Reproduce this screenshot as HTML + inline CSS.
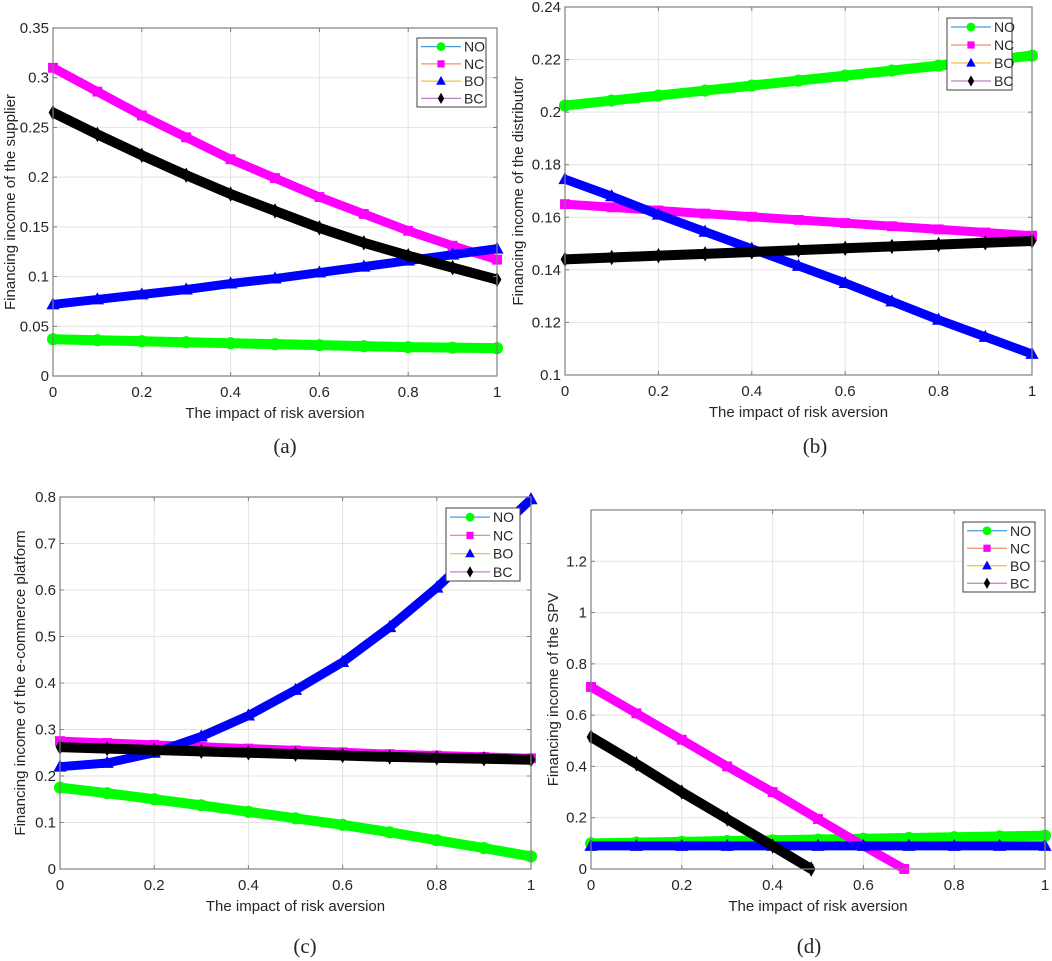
<!DOCTYPE html>
<html><head><meta charset="utf-8"><style>
body{margin:0;background:#fff;width:1052px;height:961px;overflow:hidden}
svg{display:block}
text{font-family:"Liberation Sans",sans-serif;fill:#262626}
</style></head><body>
<svg id="fig" width="1052" height="961" viewBox="0 0 1052 961"></svg>
<script>
const xs11=[0,0.1,0.2,0.3,0.4,0.5,0.6,0.7,0.8,0.9,1];
const xTicks=[0,0.2,0.4,0.6,0.8,1];
const seriesNames=["NO","NC","BO","BC"];
// panel a
const aNO=[0.037,0.036,0.035,0.034,0.033,0.032,0.031,0.030,0.029,0.0285,0.028];
const aNC=[0.310,0.286,0.262,0.240,0.218,0.199,0.180,0.163,0.146,0.131,0.117];
const aBO=[0.072,0.077,0.082,0.087,0.093,0.098,0.104,0.110,0.116,0.122,0.128];
const aBC=[0.265,0.243,0.222,0.202,0.183,0.166,0.149,0.134,0.121,0.109,0.097];
const aTicks=[0,0.05,0.1,0.15,0.2,0.25,0.3,0.35];
// panel b
const bNO=[0.2025,0.2044,0.2063,0.2082,0.2101,0.212,0.2139,0.2158,0.2177,0.2196,0.2215];
const bNC=[0.165,0.1638,0.1626,0.1614,0.1602,0.159,0.1578,0.1566,0.1554,0.1542,0.153];
const bBO=[0.1745,0.168,0.161,0.1545,0.148,0.1415,0.135,0.128,0.121,0.1145,0.108];
const bBC=[0.144,0.1447,0.1454,0.1461,0.1468,0.1475,0.1482,0.1489,0.1496,0.1503,0.151];
const bTicks=[0.1,0.12,0.14,0.16,0.18,0.2,0.22,0.24];
// panel c
const cNO=[0.175,0.163,0.150,0.137,0.123,0.109,0.095,0.079,0.062,0.045,0.027];
const cNC=[0.275,0.271,0.267,0.263,0.259,0.255,0.251,0.247,0.244,0.241,0.238];
const cBO=[0.220,0.228,0.250,0.285,0.330,0.385,0.445,0.520,0.605,0.700,0.795];
const cBC=[0.262,0.259,0.256,0.253,0.250,0.247,0.244,0.241,0.239,0.237,0.235];
const cTicks=[0,0.1,0.2,0.3,0.4,0.5,0.6,0.7,0.8];
// panel d
const dNO=[0.100,0.103,0.106,0.109,0.112,0.115,0.118,0.121,0.124,0.127,0.130];
const dBO=[0.09,0.09,0.09,0.09,0.09,0.09,0.09,0.09,0.09,0.09,0.09];
const dNCx=[0,0.1,0.2,0.3,0.4,0.5,0.6,0.69];
const dNC=[0.71,0.607,0.504,0.40,0.30,0.195,0.09,0];
const dBCx=[0,0.1,0.2,0.3,0.4,0.485];
const dBC=[0.515,0.41,0.30,0.195,0.09,0];
const dTicks=[0,0.2,0.4,0.6,0.8,1,1.2];

const NS="http://www.w3.org/2000/svg";
const svg=document.getElementById('fig');
function mk(tag,attrs,parent){const e=document.createElementNS(NS,tag);for(const k in attrs)e.setAttribute(k,attrs[k]);(parent||svg).appendChild(e);return e;}
const markColor={NO:"#00ff00",NC:"#ff00ff",BO:"#0000ff",BC:"#000000"};
const legLine={NO:"#3fa0dd",NC:"#f09070",BO:"#f0c040",BC:"#c080c8"};
function marker(g,type,x,y,s){
  const c=markColor[type];let m;
  if(type==="NO")m=mk('circle',{cx:x,cy:y,r:s*0.55,fill:c},g);
  else if(type==="NC")m=mk('rect',{x:x-s*0.45,y:y-s*0.45,width:s*0.9,height:s*0.9,fill:c},g);
  else if(type==="BO")m=mk('polygon',{points:`${x},${y-s*0.65} ${x-s*0.6},${y+s*0.45} ${x+s*0.6},${y+s*0.45}`,fill:c},g);
  else m=mk('polygon',{points:`${x},${y-s*0.7} ${x-s*0.4},${y} ${x},${y+s*0.7} ${x+s*0.4},${y}`,fill:c},g);
  return m;
}
function panel(cfg){
  const {id,L,R,T,B,ymin,ymax,yt,series,ylabel,ylx,leg,cap,capx}=cfg;
  const g=mk('g',{});
  
  
  const X=v=>L+(R-L)*v, Y=v=>B-(B-T)*(v-ymin)/(ymax-ymin);
  const grid=mk('g',{},g);
  
  
  xTicks.forEach(t=>{mk('line',{x1:X(t),x2:X(t),y1:T,y2:B,stroke:"#e3e3e3","stroke-width":1},grid);});
  yt.forEach(t=>{mk('line',{x1:L,x2:R,y1:Y(t),y2:Y(t),stroke:"#e3e3e3","stroke-width":1},grid);});
  series.forEach(s=>{
    const sg=mk('g',{},g);
    
    
    const xs=s.x||xs11;
    const pts=xs.map((x,i)=>X(x)+','+Y(s.y[i])).join(' ');
    mk('polyline',{points:pts,fill:"none",stroke:markColor[s.name],"stroke-width":s.name==="NO"?10:s.name==="BC"?10:9,"stroke-linejoin":"round"},sg);
    xs.forEach((x,i)=>marker(sg,s.name,X(x),Y(s.y[i]),11));
  });
  const ax=mk('rect',{x:L,y:T,width:R-L,height:B-T,fill:"none",stroke:"#808080","stroke-width":1.2},g);
  
  
  xTicks.forEach(t=>{
    mk('line',{x1:X(t),x2:X(t),y1:B,y2:B-4,stroke:"#808080"},g);
    mk('line',{x1:X(t),x2:X(t),y1:T,y2:T+4,stroke:"#808080"},g);
    const tx=mk('text',{x:X(t),y:B+21,"font-size":15,"text-anchor":"middle"},g);
    tx.textContent=String(t);
    
    
  });
  yt.forEach(t=>{
    mk('line',{x1:L,x2:L+4,y1:Y(t),y2:Y(t),stroke:"#808080"},g);
    mk('line',{x1:R,x2:R-4,y1:Y(t),y2:Y(t),stroke:"#808080"},g);
    const tx=mk('text',{x:L-4,y:Y(t)+5,"font-size":15,"text-anchor":"end"},g);
    tx.textContent=String(t);
    
    
  });
  const xl=mk('text',{x:(L+R)/2,y:B+42,"font-size":15,"text-anchor":"middle"},g);
  xl.textContent="The impact of risk aversion";
  
  
  const cy=(T+B)/2;
  const yl=mk('text',{x:ylx,y:cy,"font-size":15,"text-anchor":"middle",transform:`rotate(-90 ${ylx} ${cy})`},g);
  yl.textContent=ylabel;
  
  
  const lg=mk('g',{},g);
  
  
  mk('rect',{x:leg[0],y:leg[1],width:leg[2]-leg[0],height:leg[3]-leg[1],fill:"#fff",stroke:"#404040","stroke-width":1},lg);
  const rh=(leg[3]-leg[1])/4;
  seriesNames.forEach((n,i)=>{
    const ry=leg[1]+rh*(i+0.5);
    const eg=mk('g',{},lg);
    
    
    mk('line',{x1:leg[0]+4,x2:leg[0]+44,y1:ry,y2:ry,stroke:legLine[n],"stroke-width":1.3},eg);
    marker(eg,n,leg[0]+24,ry,8);
    const t=mk('text',{x:leg[0]+47,y:ry+5,"font-size":14},eg);
    t.textContent=n;
  });
  const c=mk('text',{x:capx,y:cfg.capy,"font-size":21,"text-anchor":"middle",style:'font-family:"Liberation Serif",serif'},g);
  c.textContent=cap;
  
  
}
panel({id:'panel-a',L:53,R:497,T:28,B:376,ymin:0,ymax:0.35,yt:aTicks,
  series:[{name:"NO",y:aNO},{name:"NC",y:aNC},{name:"BO",y:aBO},{name:"BC",y:aBC}],
  ylabel:"Financing income of the supplier",ylx:15,leg:[417,38,486,107],cap:"(a)",capx:285,capy:453});
panel({id:'panel-b',L:565,R:1032,T:7,B:375,ymin:0.1,ymax:0.24,yt:bTicks,
  series:[{name:"NO",y:bNO},{name:"NC",y:bNC},{name:"BO",y:bBO},{name:"BC",y:bBC}],
  ylabel:"Financing income of the distributor",ylx:523,leg:[947,18,1012,90],cap:"(b)",capx:815,capy:453});
panel({id:'panel-c',L:60,R:531,T:497,B:869,ymin:0,ymax:0.8,yt:cTicks,
  series:[{name:"NO",y:cNO},{name:"NC",y:cNC},{name:"BO",y:cBO},{name:"BC",y:cBC}],
  ylabel:"Financing income of the e-commerce platform",ylx:25,leg:[446,508,520,581],cap:"(c)",capx:305,capy:953});
panel({id:'panel-d',L:591,R:1045,T:510,B:869,ymin:0,ymax:1.4,yt:dTicks,
  series:[{name:"NO",y:dNO},{name:"NC",x:dNCx,y:dNC},{name:"BO",y:dBO},{name:"BC",x:dBCx,y:dBC}],
  ylabel:"Financing income of the SPV",ylx:558,leg:[963,522,1035,592],cap:"(d)",capx:809,capy:953});
</script>
</body></html>
